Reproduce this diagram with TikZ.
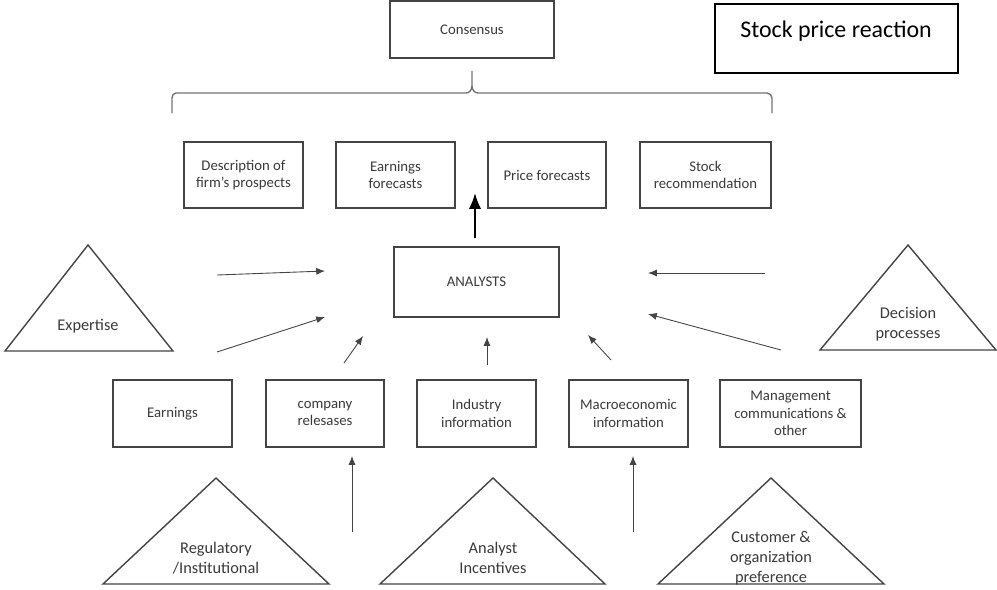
\documentclass[tikz,border=0pt]{standalone}
\usepackage{fontspec}
\setmainfont{Carlito}
\usetikzlibrary{arrows.meta}
\definecolor{ink}{HTML}{3A3A3A}
\definecolor{edge}{HTML}{444444}
\tikzset{
  box/.style 2 args={draw=edge, line width=0.8pt, inner sep=0pt, align=center,
    font=\fontsize{8.4}{10}\selectfont, text=ink,
    minimum width=#1*0.02cm, minimum height=#2*0.02cm},
  lbl/.style={inner sep=0pt, align=center, font=\fontsize{9.3}{11.3}\selectfont, text=ink},
  tri/.style={draw=edge, line width=0.8pt, line join=miter},
  thin/.style={draw=edge, line width=0.5pt, -{Latex[length=5pt,width=4pt]}},
  thick/.style={draw=black, line width=1.1pt, -{Latex[length=9pt,width=7pt]}},
  bracel/.style={draw=black!55, line width=0.8pt},
}
\begin{document}
\begin{tikzpicture}[x=0.02cm,y=-0.02cm]
\useasboundingbox (0,0) rectangle (997,589);
% top
\node[box={164}{57}] (cons) at (472,29.5) {Consensus};
\node[draw=black, line width=0.7pt, inner sep=0pt, minimum width=243*0.02cm, minimum height=69*0.02cm] (spr) at (836.5,38.5) {};
\node[inner sep=0pt, font=\fontsize{13.6}{15}\selectfont] (sprt) at (836,31) {Stock price reaction};
% brace
\draw[bracel] (172,113) -- (172,98) to[out=90,in=180] (176,93) -- (466,93) to[out=0,in=-90] (472,86) -- (472,71);
\draw[bracel] (472,86) to[out=-90,in=180] (478,93) -- (767,93) to[out=0,in=90] (772,98) -- (772,113);
% outputs
\node[box={119}{66}] (desc) at (243.5,175) {Description of\\firm's prospects};
\node[box={119}{66}] (ef) at (395.5,175) {Earnings\\forecasts};
\node[box={118}{66}] (pf) at (547,175) {Price forecasts};
\node[box={131}{66}] (sr) at (705.5,175) {Stock\\recommendation};
% analysts
\node[box={165}{70}] (an) at (476.5,282) {ANALYSTS};
\coordinate (upA) at (475,238);
\coordinate (upB) at (475,193);
\draw[thick] (upA) -- (upB);
% expertise
\coordinate (e1) at (88,245); \coordinate (e2) at (173,351); \coordinate (e3) at (5,351);
\draw[tri] (e1) -- (e2) -- (e3) -- cycle;
\node[lbl] (exp) at (88,326) {Expertise};
% decision
\coordinate (d1) at (908,245); \coordinate (d2) at (996,350); \coordinate (d3) at (820,350);
\draw[tri] (d1) -- (d2) -- (d3) -- cycle;
\node[lbl] (dec) at (908,324) {Decision\\processes};
% inputs
\node[box={119}{67}] (earn) at (172.5,413.5) {Earnings};
\node[box={118}{67}] (comp) at (325,413.5) {company\\relesases};
\node[box={119}{67}] (ind) at (476.5,413.5) {Industry\\information};
\node[box={119}{67}] (mac) at (628.5,413.5) {Macroeconomic\\information};
\node[box={141}{67}] (mgt) at (790.5,413.5) {Management\\communications \&\\other};
% bottom triangles
\coordinate (r1) at (216,478); \coordinate (r2) at (329,584); \coordinate (r3) at (103,584);
\draw[tri] (r1) -- (r2) -- (r3) -- cycle;
\node[lbl] (reg) at (216,558) {Regulatory\\/Institutional};
\coordinate (a1) at (493,478); \coordinate (a2) at (605,584); \coordinate (a3) at (380,584);
\draw[tri] (a1) -- (a2) -- (a3) -- cycle;
\node[lbl] (ainc) at (493,558) {Analyst\\Incentives};
\coordinate (c1) at (771,478); \coordinate (c2) at (884,584); \coordinate (c3) at (658,584);
\draw[tri] (c1) -- (c2) -- (c3) -- cycle;
\node[lbl] (cust) at (771,558) {Customer \&\\organization\\preference};
% thin arrows
\coordinate (la1) at (217,275); \coordinate (lb1) at (325,271);
\coordinate (la2) at (217,352); \coordinate (lb2) at (325,317);
\draw[thin] (la1) -- (lb1);
\draw[thin] (la2) -- (lb2);
\coordinate (ra1) at (765,273); \coordinate (rb1) at (648,273);
\coordinate (ra2) at (781,350); \coordinate (rb2) at (648,314);
\draw[thin] (ra1) -- (rb1);
\draw[thin] (ra2) -- (rb2);
\coordinate (ca) at (344,363); \coordinate (cb) at (363,336);
\draw[thin] (ca) -- (cb);
\coordinate (ia) at (487,365); \coordinate (ib) at (487,337);
\draw[thin] (ia) -- (ib);
\coordinate (ma) at (611,360); \coordinate (mb) at (588,335);
\draw[thin] (ma) -- (mb);
\coordinate (ua1) at (352,532); \coordinate (ub1) at (352,456);
\draw[thin] (ua1) -- (ub1);
\coordinate (ua2) at (633,532); \coordinate (ub2) at (633,456);
\draw[thin] (ua2) -- (ub2);
\end{tikzpicture}
\end{document}
